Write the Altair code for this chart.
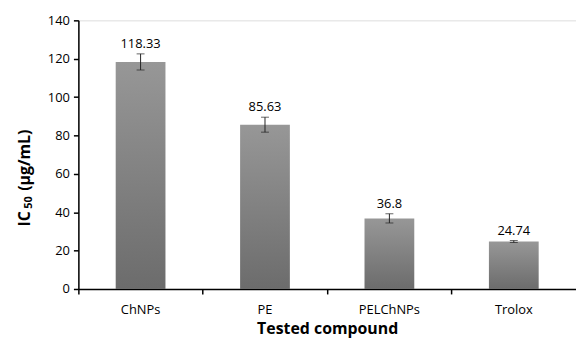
import altair as alt
import pandas as pd

categories = ["ChNPs", "PE", "PELChNPs", "Trolox"]
values = [118.33, 85.63, 36.8, 24.74]
errors = [4.2, 3.9, 2.4, 0.5]
labels = ["118.33", "85.63", "36.8", "24.74"]
y_ticks = [0, 20, 40, 60, 80, 100, 120, 140]
y_title_parts = ["IC", "50", "(µg/mL)"]

df = pd.DataFrame({
    "cat": categories,
    "val": values,
    "lo": [v - e for v, e in zip(values, errors)],
    "hi": [v + e for v, e in zip(values, errors)],
    "lab": labels,
})

FONT = "Open Sans"

xaxis = alt.Axis(title="Tested compound", labelAngle=0, bandPosition=0,
                 labelFontSize=13, titleFontSize=16, titleFontWeight="bold",
                 labelColor="black", titleColor="black", domainColor="black",
                 tickColor="black", tickSize=5, labelPadding=10, titlePadding=4,
                 domainWidth=1.5, tickWidth=1.5)
yaxis = alt.Axis(title=None, values=y_ticks, grid=False,
                 labelOverlap=False,
                 labelFontSize=13,
                 labelColor="black", domainColor="black",
                 tickColor="black", tickSize=5, labelPadding=4,
                 domainWidth=1.5, tickWidth=1.5)
xscale = alt.Scale(paddingInner=0, paddingOuter=0)
yscale = alt.Scale(domain=[0, 140])

def xenc():
    return alt.X("cat:N", sort=categories, scale=xscale, axis=xaxis)

bars = alt.Chart(df).mark_bar(
    width=alt.RelativeBandSize(0.4),
    color=alt.Gradient(gradient="linear", x1=0, y1=0, x2=0, y2=1,
                       stops=[alt.GradientStop(color="#979797", offset=0),
                              alt.GradientStop(color="#6c6c6c", offset=1)]),
).encode(
    x=xenc(),
    y=alt.Y("val:Q", scale=yscale, axis=yaxis),
)

err = alt.Chart(df).mark_errorbar(ticks=alt.TickConfig(size=8, thickness=1, color="#222222"),
                                  rule=alt.LineConfig(color="#222222", strokeWidth=1)).encode(
    x=xenc(),
    y=alt.Y("lo:Q", scale=yscale, axis=yaxis),
    y2="hi:Q",
)

text = alt.Chart(df).mark_text(baseline="bottom", dy=-3, fontSize=13, font=FONT, color="black").encode(
    x=xenc(),
    y=alt.Y("hi:Q", scale=yscale, axis=yaxis),
    text="lab:N",
)

# y-axis title with subscript, built from rotated text pieces
t_ic = alt.Chart().mark_text(angle=270, align="left", baseline="middle", fontSize=16,
                             fontWeight="bold", font=FONT, color="black").encode(
    x=alt.value(-54), y=alt.value(208), text=alt.value(y_title_parts[0]))
t_sub = alt.Chart().mark_text(angle=270, align="left", baseline="middle", fontSize=11,
                              fontWeight="bold", font=FONT, color="black").encode(
    x=alt.value(-50), y=alt.value(190), text=alt.value(y_title_parts[1]))
t_unit = alt.Chart().mark_text(angle=270, align="left", baseline="middle", fontSize=16,
                               fontWeight="bold", font=FONT, color="black").encode(
    x=alt.value(-54), y=alt.value(172), text=alt.value(y_title_parts[2]))

chart = alt.layer(bars, err, text, t_ic, t_sub, t_unit).properties(
    width=502, height=271,
    autosize=alt.AutoSizeParams(type="none"),
    padding={"left": 71, "top": 11, "right": 0, "bottom": 50},
).configure_view(stroke=None).configure(font=FONT)

chart.save("out.html", embed_options={"renderer": "svg", "actions": False})
